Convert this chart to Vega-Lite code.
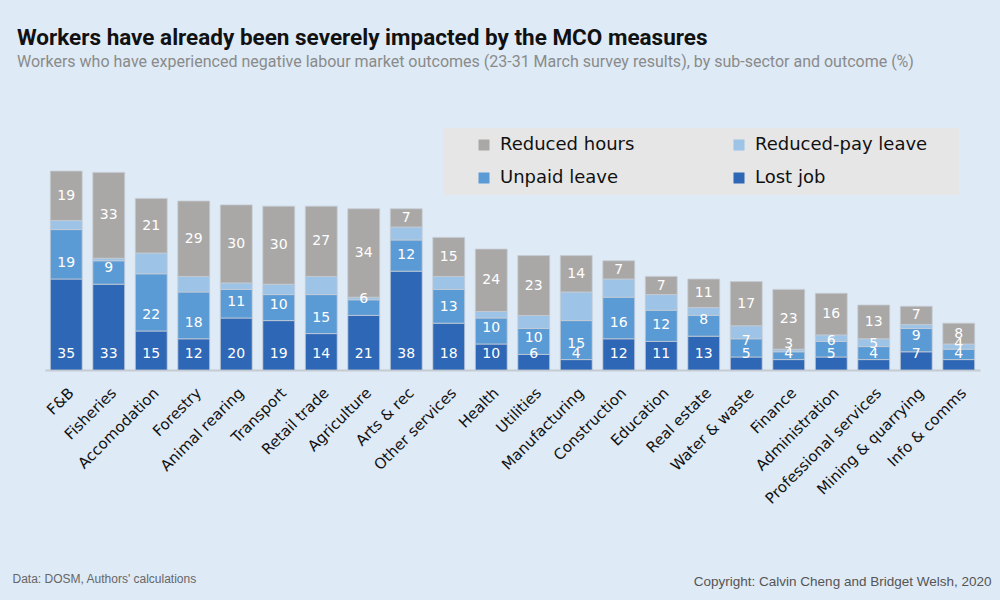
{
  "$schema": "https://vega.github.io/schema/vega-lite/v6.json",
  "width": 935,
  "height": 234,
  "autosize": {"type": "none"},
  "padding": {"left": 45, "top": 136, "right": 20, "bottom": 230},
  "background": "#DEEAF6",
  "title": {
    "text": "Workers have already been severely impacted by the MCO measures",
    "subtitle": "Workers who have experienced negative labour market outcomes (23-31 March survey results), by sub-sector and outcome (%)",
    "anchor": "start",
    "frame": "group",
    "dx": -28,
    "offset": 58,
    "font": "Roboto",
    "fontSize": 22.5,
    "fontWeight": "bold",
    "color": "#111111",
    "subtitleFont": "Roboto",
    "subtitleFontSize": 16,
    "subtitleColor": "#8a8a8a",
    "subtitlePadding": 5
  },
  "data": {
    "values": [
      {"sector": "F&B", "Lost job": 35, "Unpaid leave": 19, "Reduced-pay leave": 3.5, "Reduced hours": 19},
      {"sector": "Fisheries", "Lost job": 33, "Unpaid leave": 9, "Reduced-pay leave": 1, "Reduced hours": 33},
      {"sector": "Accomodation", "Lost job": 15, "Unpaid leave": 22, "Reduced-pay leave": 8, "Reduced hours": 21},
      {"sector": "Forestry", "Lost job": 12, "Unpaid leave": 18, "Reduced-pay leave": 6, "Reduced hours": 29},
      {"sector": "Animal rearing", "Lost job": 20, "Unpaid leave": 11, "Reduced-pay leave": 2.5, "Reduced hours": 30},
      {"sector": "Transport", "Lost job": 19, "Unpaid leave": 10, "Reduced-pay leave": 4, "Reduced hours": 30},
      {"sector": "Retail trade", "Lost job": 14, "Unpaid leave": 15, "Reduced-pay leave": 7, "Reduced hours": 27},
      {"sector": "Agriculture", "Lost job": 21, "Unpaid leave": 6, "Reduced-pay leave": 1, "Reduced hours": 34},
      {"sector": "Arts & rec", "Lost job": 38, "Unpaid leave": 12, "Reduced-pay leave": 5, "Reduced hours": 7},
      {"sector": "Other services", "Lost job": 18, "Unpaid leave": 13, "Reduced-pay leave": 5, "Reduced hours": 15},
      {"sector": "Health", "Lost job": 10, "Unpaid leave": 10, "Reduced-pay leave": 2.5, "Reduced hours": 24},
      {"sector": "Utilities", "Lost job": 6, "Unpaid leave": 10, "Reduced-pay leave": 5, "Reduced hours": 23},
      {"sector": "Manufacturing", "Lost job": 4, "Unpaid leave": 15, "Reduced-pay leave": 11, "Reduced hours": 14},
      {"sector": "Construction", "Lost job": 12, "Unpaid leave": 16, "Reduced-pay leave": 7, "Reduced hours": 7},
      {"sector": "Education", "Lost job": 11, "Unpaid leave": 12, "Reduced-pay leave": 6, "Reduced hours": 7},
      {"sector": "Real estate", "Lost job": 13, "Unpaid leave": 8, "Reduced-pay leave": 3, "Reduced hours": 11},
      {"sector": "Water & waste", "Lost job": 5, "Unpaid leave": 7, "Reduced-pay leave": 5, "Reduced hours": 17},
      {"sector": "Finance", "Lost job": 4, "Unpaid leave": 3, "Reduced-pay leave": 1, "Reduced hours": 23},
      {"sector": "Administration", "Lost job": 5, "Unpaid leave": 6, "Reduced-pay leave": 2.5, "Reduced hours": 16},
      {"sector": "Professional services", "Lost job": 4, "Unpaid leave": 5, "Reduced-pay leave": 3, "Reduced hours": 13},
      {"sector": "Mining & quarrying", "Lost job": 7, "Unpaid leave": 9, "Reduced-pay leave": 1.5, "Reduced hours": 7},
      {"sector": "Info & comms", "Lost job": 4, "Unpaid leave": 4, "Reduced-pay leave": 2, "Reduced hours": 8}
    ]
  },
  "transform": [
    {"fold": ["Lost job", "Unpaid leave", "Reduced-pay leave", "Reduced hours"], "as": ["outcome", "value"]},
    {"stack": "value", "groupby": ["sector"], "as": ["y0", "y1"]}
  ],
  "layer": [
    {
      "mark": {"type": "bar", "stroke": "#C5CCD4", "strokeWidth": 0.8},
      "encoding": {
        "x": {
          "field": "sector",
          "type": "nominal",
          "sort": ["F&B", "Fisheries", "Accomodation", "Forestry", "Animal rearing", "Transport", "Retail trade", "Agriculture", "Arts & rec", "Other services", "Health", "Utilities", "Manufacturing", "Construction", "Education", "Real estate", "Water & waste", "Finance", "Administration", "Professional services", "Mining & quarrying", "Info & comms"],
          "scale": {"paddingInner": 0.25, "paddingOuter": 0.125},
          "axis": {
            "orient": "bottom",
            "labelAngle": -45,
            "labelFont": "DejaVu Sans",
            "labelFontSize": 15,
            "labelColor": "#111111",
            "labelPadding": 15,
            "labelOverlap": false,
            "labelLimit": 300,
            "ticks": false,
            "domainColor": "#C6CBD1",
            "domainWidth": 2,
            "title": "Data: DOSM, Authors' calculations",
            "titleX": -33,
            "titleY": 208,
            "titleAlign": "left",
            "titleAnchor": "start",
            "titleBaseline": "middle",
            "titleFont": "Liberation Sans",
            "titleFontSize": 12,
            "titleFontWeight": "normal",
            "titleColor": "#666666"
          }
        },
        "y": {
          "field": "y0",
          "type": "quantitative",
          "scale": {"domain": [0, 90], "nice": false},
          "axis": {
            "values": [0, 10, 20, 30, 40, 50, 60, 70, 80, 90],
            "grid": true,
            "gridColor": "#FFFFFF",
            "gridWidth": 2.5,
            "labels": false,
            "ticks": false,
            "domain": false,
            "title": null
          }
        },
        "y2": {"field": "y1"},
        "color": {
          "field": "outcome",
          "type": "nominal",
          "scale": {
            "domain": ["Reduced hours", "Reduced-pay leave", "Unpaid leave", "Lost job"],
            "range": ["#AAA8A6", "#9DC3E6", "#5B9BD5", "#2E67B6"]
          },
          "legend": {
            "orient": "none",
            "direction": "horizontal",
            "legendX": 398,
            "legendY": -8,
            "columns": 2,
            "fillColor": "#E6E6E6",
            "padding": 8,
            "symbolOffset": 24,
            "symbolType": "square",
            "symbolSize": 121,
            "symbolStrokeWidth": 0,
            "labelFont": "DejaVu Sans",
            "labelFontSize": 18,
            "labelColor": "#111111",
            "labelOffset": 7,
            "labelLimit": 300,
            "rowPadding": 15,
            "columnPadding": 71,
            "gridAlign": "each",
            "title": "\u00a0",
            "titleOrient": "right",
            "titlePadding": 24,
            "titleFontSize": 18
          }
        }
      }
    },
    {
      "transform": [{"filter": {"field": "outcome", "oneOf": ["Lost job", "Unpaid leave"]}}],
      "mark": {"type": "text", "dy": -16, "font": "DejaVu Sans", "fontSize": 14, "color": "#FFFFFF", "baseline": "middle"},
      "encoding": {
        "x": {
          "field": "sector",
          "type": "nominal",
          "sort": ["F&B", "Fisheries", "Accomodation", "Forestry", "Animal rearing", "Transport", "Retail trade", "Agriculture", "Arts & rec", "Other services", "Health", "Utilities", "Manufacturing", "Construction", "Education", "Real estate", "Water & waste", "Finance", "Administration", "Professional services", "Mining & quarrying", "Info & comms"],
          "axis": {
            "orient": "top",
            "labels": false,
            "ticks": false,
            "domain": false,
            "grid": false,
            "title": "Copyright: Calvin Cheng and Bridget Welsh, 2020",
            "titleX": 946,
            "titleY": 445,
            "titleAlign": "right",
            "titleAnchor": "end",
            "titleBaseline": "middle",
            "titleFont": "Liberation Sans",
            "titleFontSize": 13.5,
            "titleFontWeight": "normal",
            "titleColor": "#555555",
            "titleLimit": 400
          }
        },
        "y": {"field": "y0", "type": "quantitative", "axis": null},
        "text": {"field": "value", "type": "quantitative"}
      }
    },
    {
      "transform": [
        {"filter": {"field": "outcome", "equal": "Reduced hours"}},
        {"fold": ["y0", "y1"], "as": ["edge", "pos"]},
        {"aggregate": [{"op": "mean", "field": "pos", "as": "mid"}], "groupby": ["sector", "value"]}
      ],
      "mark": {"type": "text", "font": "DejaVu Sans", "fontSize": 14, "color": "#FFFFFF", "baseline": "middle"},
      "encoding": {
        "x": {
          "field": "sector",
          "type": "nominal",
          "sort": ["F&B", "Fisheries", "Accomodation", "Forestry", "Animal rearing", "Transport", "Retail trade", "Agriculture", "Arts & rec", "Other services", "Health", "Utilities", "Manufacturing", "Construction", "Education", "Real estate", "Water & waste", "Finance", "Administration", "Professional services", "Mining & quarrying", "Info & comms"],
          "axis": null
        },
        "y": {"field": "mid", "type": "quantitative", "axis": null},
        "text": {"field": "value", "type": "quantitative"}
      }
    }
  ],
  "resolve": {"axis": {"x": "independent"}},
  "config": {"view": {"stroke": null}}
}
